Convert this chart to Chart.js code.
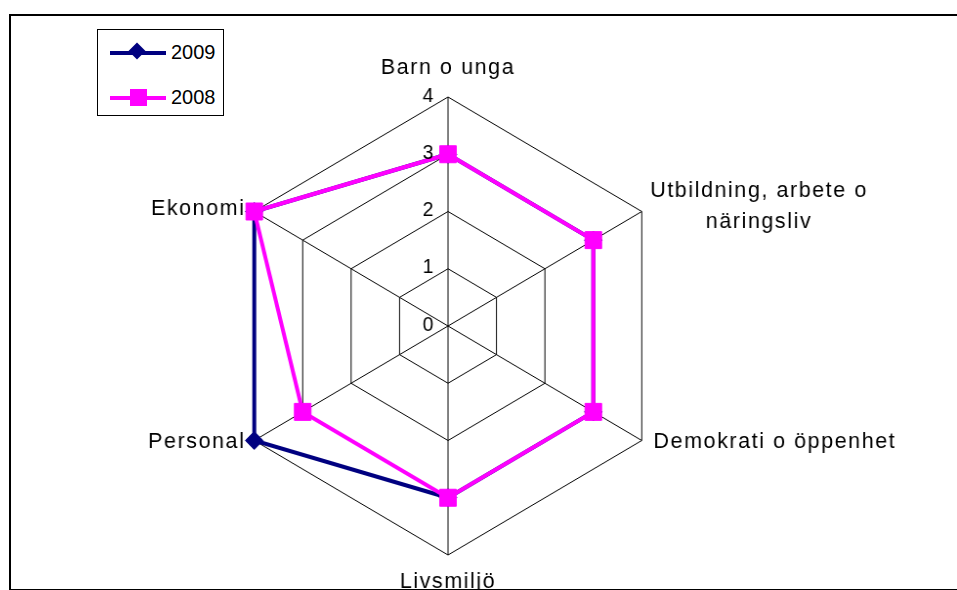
<!DOCTYPE html>
<html>
<head>
<meta charset="utf-8">
<script src="https://cdn.jsdelivr.net/npm/chart.js@4/dist/chart.umd.min.js"></script>
<style>
  body { margin: 0; background: #fff; font-family: "Liberation Sans", Arial, sans-serif; }
  #wrap { position: relative; width: 957px; height: 590px; overflow: hidden; }
  #chartRadar { transform: scaleX(0.977); transform-origin: 448px 0; }
  #frame { position: absolute; left: 9px; top: 14px; width: 960px; height: 573px;
           border-left: 2px solid #000; border-top: 2px solid #000; border-bottom: 2px solid #000;
           pointer-events: none; }
  #legend { position: absolute; left: 97px; top: 29px; width: 125px; height: 85px;
            border: 1px solid #000; background: #fff; font-size: 20px; }
  .row { position: absolute; left: 12px; height: 20px; }
  .row .ln { position: absolute; left: 0; top: 8px; width: 56px; height: 4px; }
  .row .mk { position: absolute; }
  .row span { position: absolute; left: 61px; top: -2px; }
</style>
</head>
<body>
<div id="wrap">
  <canvas id="chartRadar" width="957" height="590"></canvas>
  <div id="legend">
    <div class="row" style="top:13px">
      <div class="ln" style="background:#000080"></div>
      <div class="mk" style="left:21px;top:2px;width:12px;height:12px;background:#000080;transform:rotate(45deg)"></div>
      <span>2009</span>
    </div>
    <div class="row" style="top:58px">
      <div class="ln" style="background:#ff00ff"></div>
      <div class="mk" style="left:20px;top:1px;width:17px;height:17px;background:#ff00ff"></div>
      <span>2008</span>
    </div>
  </div>
  <div id="frame"></div>
</div>
<script>
'use strict';

//data

var categories = [
    ['Barn o unga'],
    ['Utbildning, arbete o', 'näringsliv'],
    ['Demokrati o öppenhet'],
    ['Livsmiljö'],
    ['Personal'],
    ['Ekonomi']
];
var values2009 = [3, 3, 3, 3, 4, 4];
var values2008 = [3, 3, 3, 3, 3, 4];
var tickValues = [0, 1, 2, 3, 4];

//colors

var colorNavy = "rgb(000,000,128)";
var colorMagenta = "rgb(255,000,255)";

//label placement per axis: [align, dx, dy]
var labelPlace = [
    ['center', 0, -29],
    ['center', 120, -5],
    ['left', 12, 1],
    ['center', 0, 27],
    ['right', -9, 1],
    ['right', -9, -3]
];

//draws axis names and tick labels
const labelPlugin = {
    id: 'labelPlugin',
    afterDraw: function (chart) {
        var ctx = chart.ctx;
        var scale = chart.scales.r;
        ctx.save();
        ctx.fillStyle = '#000';
        ctx.textBaseline = 'middle';

        //tick labels
        ctx.font = '20px "Liberation Sans", Arial, sans-serif';
        ctx.textAlign = 'right';
        tickValues.forEach(function (v) {
            var d = scale.getDistanceFromCenterForValue(v);
            ctx.fillText(String(v), scale.xCenter - 15, scale.yCenter - d - 1);
        });

        //axis names
        ctx.font = '22px "Liberation Sans", Arial, sans-serif';
        if ('letterSpacing' in ctx) ctx.letterSpacing = '1.6px';
        categories.forEach(function (lines, i) {
            var p = scale.getPointPositionForValue(i, 4);
            var place = labelPlace[i];
            ctx.textAlign = place[0];
            var lh = 31;
            var y0 = p.y + place[2] - (lines.length - 1) * lh / 2;
            lines.forEach(function (t, j) {
                ctx.fillText(t, p.x + place[1], y0 + j * lh);
            });
        });
        ctx.restore();
    }
};

window.onload = function () {

    new Chart(document.getElementById('chartRadar'), {
        type: 'radar',
        data: {
            labels: categories,
            datasets: [{
                label: '2009',
                data: values2009,
                borderColor: colorNavy,
                backgroundColor: colorNavy,
                borderWidth: 4,
                fill: false,
                pointStyle: 'rectRot',
                pointRadius: 9,
                pointBorderWidth: 1,
                order: 1
            },
            {
                label: '2008',
                data: values2008,
                borderColor: colorMagenta,
                backgroundColor: colorMagenta,
                borderWidth: 4,
                fill: false,
                pointStyle: 'rect',
                pointRadius: 12,
                pointBorderWidth: 1,
                order: 0
            }]
        },
        options: {
            responsive: false,
            animation: false,
            elements: { line: { tension: 0 } },
            layout: { padding: { left: 148, right: 209, top: 97, bottom: 35 } },
            plugins: {
                legend: { display: false },
                tooltip: { enabled: false }
            },
            scales: {
                r: {
                    min: 0,
                    max: 4,
                    ticks: { stepSize: 1, display: false, showLabelBackdrop: false },
                    grid: { color: '#000', lineWidth: 1 },
                    angleLines: { color: '#000', lineWidth: 1 },
                    pointLabels: { display: false }
                }
            }
        },
        plugins: [labelPlugin]
    });
};
</script>
</body>
</html>
